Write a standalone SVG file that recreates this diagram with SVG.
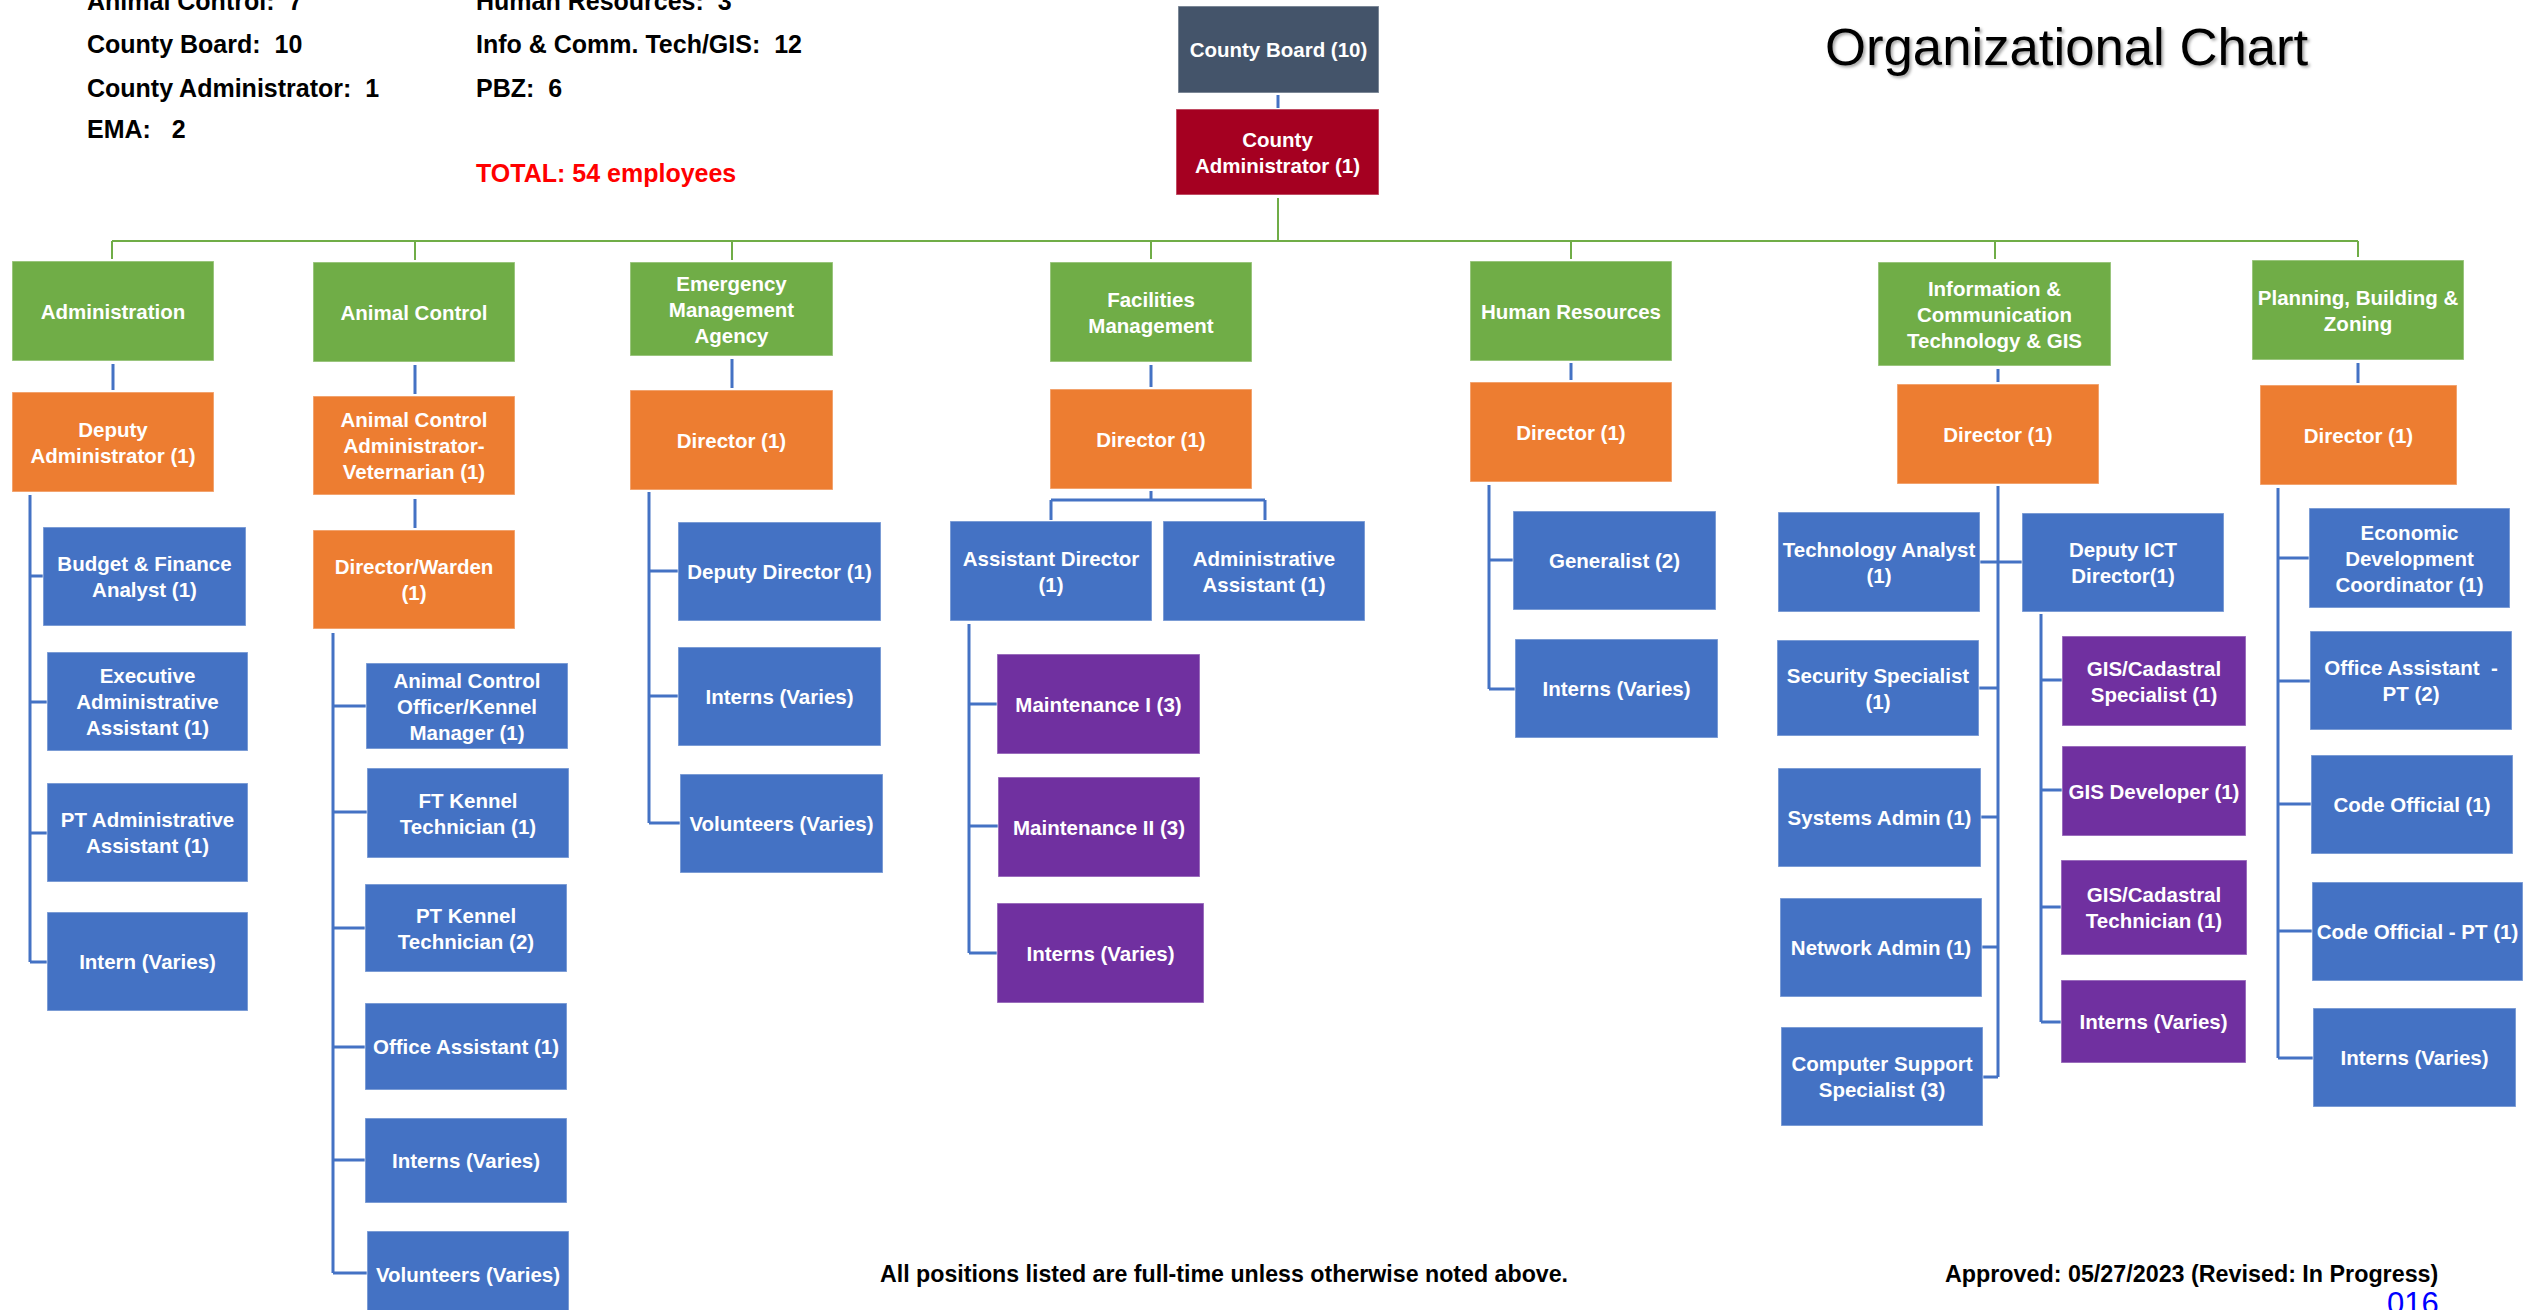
<svg xmlns="http://www.w3.org/2000/svg" width="2543" height="1310" viewBox="0 0 2543 1310">
<defs>
<style>
.g{fill:#70AD47}.o{fill:#ED7D31}.b{fill:#4472C4}.p{fill:#7030A0}.cb0{fill:#44546A}.ca{fill:#A50021}
rect{stroke:#ffffff;stroke-opacity:0.4;stroke-width:1.5}
.t{font-family:'Liberation Sans',Arial,sans-serif;font-weight:bold;font-size:20.5px;fill:#ffffff;text-anchor:middle}
.h{font-family:'Liberation Sans',Arial,sans-serif;font-weight:bold;font-size:25px;fill:#000000}
.f{font-family:'Liberation Sans',Arial,sans-serif;font-weight:bold;font-size:23.2px;fill:#000000}
.lg{stroke:#70AD47;stroke-width:2;fill:none}
.lb{stroke:#4472C4;stroke-width:3;fill:none}
</style>
<filter id="sh" x="-5%" y="-20%" width="110%" height="140%">
<feDropShadow dx="2" dy="2" stdDeviation="1.5" flood-color="#000" flood-opacity="0.35"/>
</filter>
</defs>
<rect width="2543" height="1310" fill="#ffffff" stroke="none"/>

<g id="summary">
<text class="h" x="87" y="10">Animal Control:&#160; 7</text>
<text class="h" x="87" y="53">County Board:&#160; 10</text>
<text class="h" x="87" y="97">County Administrator:&#160; 1</text>
<text class="h" x="87" y="138">EMA:&#160;&#160; 2</text>
<text class="h" x="476" y="10">Human Resources:&#160; 3</text>
<text class="h" x="476" y="53">Info &amp; Comm. Tech/GIS:&#160; 12</text>
<text class="h" x="476" y="97">PBZ:&#160; 6</text>
<text class="h" x="476" y="182" style="fill:#FF0000">TOTAL: 54 employees</text>
</g>
<g id="title">
<text x="1825" y="65" filter="url(#sh)" style="font-family:'Liberation Sans',Arial,sans-serif;font-size:52.7px;fill:#000">Organizational Chart</text>
</g>

<g id="connectors">
<path class="lg" d="M1278,198V241M112,241H2358M112,241V259M415,241V260M732,241V260M1151,241V259M1571,241V259M1995,241V259M2358,241V257"/>
<path class="lb" d="M1278,95V108"/>
<path class="lb" d="M113,364V390M30,495V962M30,576H43M30,702H47M30,833H47M30,962H47"/>
<path class="lb" d="M415,365V394M415,499V528M333,633V1273M333,706H366M333,812H367M333,928H365M333,1047H365M333,1160H365M333,1273H367"/>
<path class="lb" d="M732,359V388M649,492V823M649,571H678M649,696H678M649,823H680"/>
<path class="lb" d="M1151,365V387M1151,491V500M1051,500H1265M1051,500V520M1265,500V520M969,624V953M969,704H997M969,826H998M969,953H997"/>
<path class="lb" d="M1571,363V380M1489,485V689M1489,560H1513M1489,689H1515"/>
<path class="lb" d="M1998,369V382M1998,486V1077M1980,562H2022M1998,688H1979M1998,817H1981M1998,947H1982M1998,1077H1983M2041,614V1022M2041,680H2062M2041,790H2062M2041,907H2061M2041,1022H2061"/>
<path class="lb" d="M2358,363V383M2278,488V1058M2278,558H2309M2278,681H2310M2278,804H2311M2278,931H2312M2278,1058H2313"/>
</g>

<g id="county-board"><rect class="cb0" x="1178" y="6" width="201" height="87"/><text class="t" x="1278.5" y="57">County Board (10)</text></g>
<g id="county-admin"><rect class="ca" x="1176" y="109" width="203" height="86"/><text class="t"><tspan x="1277.5" y="146.5">County</tspan><tspan x="1277.5" y="172.5">Administrator (1)</tspan></text></g>

<g id="administration"><rect class="g" x="12" y="261" width="202" height="100"/><text class="t" x="113" y="318.5">Administration</text></g>
<g id="deputy-administrator"><rect class="o" x="12" y="392" width="202" height="100"/><text class="t"><tspan x="113" y="436.5">Deputy</tspan><tspan x="113" y="462.5">Administrator (1)</tspan></text></g>
<g id="budget-finance"><rect class="b" x="43" y="527" width="203" height="99"/><text class="t"><tspan x="144.5" y="571">Budget &amp; Finance</tspan><tspan x="144.5" y="597">Analyst (1)</tspan></text></g>
<g id="exec-admin-assistant"><rect class="b" x="47" y="652" width="201" height="99"/><text class="t"><tspan x="147.5" y="683">Executive</tspan><tspan x="147.5" y="709">Administrative</tspan><tspan x="147.5" y="735">Assistant (1)</tspan></text></g>
<g id="pt-admin-assistant"><rect class="b" x="47" y="783" width="201" height="99"/><text class="t"><tspan x="147.5" y="827">PT Administrative</tspan><tspan x="147.5" y="853">Assistant (1)</tspan></text></g>
<g id="admin-intern"><rect class="b" x="47" y="912" width="201" height="99"/><text class="t" x="147.5" y="969">Intern (Varies)</text></g>

<g id="animal-control"><rect class="g" x="313" y="262" width="202" height="100"/><text class="t" x="414" y="319.5">Animal Control</text></g>
<g id="ac-admin-vet"><rect class="o" x="313" y="396" width="202" height="99"/><text class="t"><tspan x="414" y="427">Animal Control</tspan><tspan x="414" y="453">Administrator-</tspan><tspan x="414" y="479">Veternarian (1)</tspan></text></g>
<g id="director-warden"><rect class="o" x="313" y="530" width="202" height="99"/><text class="t"><tspan x="414" y="574">Director/Warden</tspan><tspan x="414" y="600">(1)</tspan></text></g>
<g id="aco-kennel-manager"><rect class="b" x="366" y="663" width="202" height="86"/><text class="t"><tspan x="467" y="687.5">Animal Control</tspan><tspan x="467" y="713.5">Officer/Kennel</tspan><tspan x="467" y="739.5">Manager (1)</tspan></text></g>
<g id="ft-kennel"><rect class="b" x="367" y="768" width="202" height="90"/><text class="t"><tspan x="468" y="807.5">FT Kennel</tspan><tspan x="468" y="833.5">Technician (1)</tspan></text></g>
<g id="pt-kennel"><rect class="b" x="365" y="884" width="202" height="88"/><text class="t"><tspan x="466" y="922.5">PT Kennel</tspan><tspan x="466" y="948.5">Technician (2)</tspan></text></g>
<g id="ac-office-assistant"><rect class="b" x="365" y="1003" width="202" height="87"/><text class="t" x="466" y="1054">Office Assistant (1)</text></g>
<g id="ac-interns"><rect class="b" x="365" y="1118" width="202" height="85"/><text class="t" x="466" y="1168">Interns (Varies)</text></g>
<g id="ac-volunteers"><rect class="b" x="367" y="1231" width="202" height="87"/><text class="t" x="468" y="1282">Volunteers (Varies)</text></g>

<g id="ema"><rect class="g" x="630" y="262" width="203" height="94"/><text class="t"><tspan x="731.5" y="290.5">Emergency</tspan><tspan x="731.5" y="316.5">Management</tspan><tspan x="731.5" y="342.5">Agency</tspan></text></g>
<g id="ema-director"><rect class="o" x="630" y="390" width="203" height="100"/><text class="t" x="731.5" y="447.5">Director (1)</text></g>
<g id="ema-deputy"><rect class="b" x="678" y="522" width="203" height="99"/><text class="t" x="779.5" y="579">Deputy Director (1)</text></g>
<g id="ema-interns"><rect class="b" x="678" y="647" width="203" height="99"/><text class="t" x="779.5" y="704">Interns (Varies)</text></g>
<g id="ema-volunteers"><rect class="b" x="680" y="774" width="203" height="99"/><text class="t" x="781.5" y="831">Volunteers (Varies)</text></g>

<g id="facilities"><rect class="g" x="1050" y="262" width="202" height="100"/><text class="t"><tspan x="1151" y="306.5">Facilities</tspan><tspan x="1151" y="332.5">Management</tspan></text></g>
<g id="fm-director"><rect class="o" x="1050" y="389" width="202" height="100"/><text class="t" x="1151" y="446.5">Director (1)</text></g>
<g id="fm-assistant-director"><rect class="b" x="950" y="521" width="202" height="100"/><text class="t"><tspan x="1051" y="565.5">Assistant Director</tspan><tspan x="1051" y="591.5">(1)</tspan></text></g>
<g id="fm-admin-assistant"><rect class="b" x="1163" y="521" width="202" height="100"/><text class="t"><tspan x="1264" y="565.5">Administrative</tspan><tspan x="1264" y="591.5">Assistant (1)</tspan></text></g>
<g id="maintenance-1"><rect class="p" x="997" y="654" width="203" height="100"/><text class="t" x="1098.5" y="711.5">Maintenance I (3)</text></g>
<g id="maintenance-2"><rect class="p" x="998" y="777" width="202" height="100"/><text class="t" x="1099" y="834.5">Maintenance II (3)</text></g>
<g id="fm-interns"><rect class="p" x="997" y="903" width="207" height="100"/><text class="t" x="1100.5" y="960.5">Interns (Varies)</text></g>

<g id="human-resources"><rect class="g" x="1470" y="261" width="202" height="100"/><text class="t" x="1571" y="318.5">Human Resources</text></g>
<g id="hr-director"><rect class="o" x="1470" y="382" width="202" height="100"/><text class="t" x="1571" y="439.5">Director (1)</text></g>
<g id="hr-generalist"><rect class="b" x="1513" y="511" width="203" height="99"/><text class="t" x="1614.5" y="568">Generalist (2)</text></g>
<g id="hr-interns"><rect class="b" x="1515" y="639" width="203" height="99"/><text class="t" x="1616.5" y="696">Interns (Varies)</text></g>

<g id="ict"><rect class="g" x="1878" y="262" width="233" height="104"/><text class="t"><tspan x="1994.5" y="295.5">Information &amp;</tspan><tspan x="1994.5" y="321.5">Communication</tspan><tspan x="1994.5" y="347.5">Technology &amp; GIS</tspan></text></g>
<g id="ict-director"><rect class="o" x="1897" y="384" width="202" height="100"/><text class="t" x="1998" y="441.5">Director (1)</text></g>
<g id="tech-analyst"><rect class="b" x="1778" y="512" width="202" height="100"/><text class="t"><tspan x="1879" y="556.5">Technology Analyst</tspan><tspan x="1879" y="582.5">(1)</tspan></text></g>
<g id="deputy-ict"><rect class="b" x="2022" y="513" width="202" height="99"/><text class="t"><tspan x="2123" y="557">Deputy ICT</tspan><tspan x="2123" y="583">Director(1)</tspan></text></g>
<g id="security-specialist"><rect class="b" x="1777" y="640" width="202" height="96"/><text class="t"><tspan x="1878" y="682.5">Security Specialist</tspan><tspan x="1878" y="708.5">(1)</tspan></text></g>
<g id="systems-admin"><rect class="b" x="1778" y="768" width="203" height="99"/><text class="t" x="1879.5" y="825">Systems Admin (1)</text></g>
<g id="network-admin"><rect class="b" x="1780" y="898" width="202" height="99"/><text class="t" x="1881" y="955">Network Admin (1)</text></g>
<g id="computer-support"><rect class="b" x="1781" y="1027" width="202" height="99"/><text class="t"><tspan x="1882" y="1071">Computer Support</tspan><tspan x="1882" y="1097">Specialist (3)</tspan></text></g>
<g id="gis-cadastral-specialist"><rect class="p" x="2062" y="636" width="184" height="90"/><text class="t"><tspan x="2154" y="675.5">GIS/Cadastral</tspan><tspan x="2154" y="701.5">Specialist (1)</tspan></text></g>
<g id="gis-developer"><rect class="p" x="2062" y="746" width="184" height="90"/><text class="t" x="2154" y="798.5">GIS Developer (1)</text></g>
<g id="gis-cadastral-technician"><rect class="p" x="2061" y="860" width="186" height="95"/><text class="t"><tspan x="2154" y="902">GIS/Cadastral</tspan><tspan x="2154" y="928">Technician (1)</tspan></text></g>
<g id="ict-interns"><rect class="p" x="2061" y="980" width="185" height="83"/><text class="t" x="2153.5" y="1029">Interns (Varies)</text></g>

<g id="pbz"><rect class="g" x="2252" y="260" width="212" height="100"/><text class="t"><tspan x="2358" y="304.5">Planning, Building &amp;</tspan><tspan x="2358" y="330.5">Zoning</tspan></text></g>
<g id="pbz-director"><rect class="o" x="2260" y="385" width="197" height="100"/><text class="t" x="2358.5" y="442.5">Director (1)</text></g>
<g id="econ-dev"><rect class="b" x="2309" y="508" width="201" height="100"/><text class="t"><tspan x="2409.5" y="539.5">Economic</tspan><tspan x="2409.5" y="565.5">Development</tspan><tspan x="2409.5" y="591.5">Coordinator (1)</tspan></text></g>
<g id="pbz-office-assistant"><rect class="b" x="2310" y="631" width="202" height="99"/><text class="t"><tspan x="2411" y="675">Office Assistant&#160; -</tspan><tspan x="2411" y="701">PT (2)</tspan></text></g>
<g id="code-official"><rect class="b" x="2311" y="755" width="202" height="99"/><text class="t" x="2412" y="812">Code Official (1)</text></g>
<g id="code-official-pt"><rect class="b" x="2312" y="882" width="211" height="99"/><text class="t" x="2417.5" y="939">Code Official - PT (1)</text></g>
<g id="pbz-interns"><rect class="b" x="2313" y="1008" width="203" height="99"/><text class="t" x="2414.5" y="1065">Interns (Varies)</text></g>

<g id="footer">
<text class="f" x="880" y="1282">All positions listed are full-time unless otherwise noted above.</text>
<text class="f" x="1945" y="1282" style="font-size:23.3px">Approved: 05/27/2023 (Revised: In Progress)</text>
<text x="2387" y="1314" style="font-family:'Liberation Sans',Arial,sans-serif;font-size:31px;fill:#0000FF">016</text>
</g>
</svg>
